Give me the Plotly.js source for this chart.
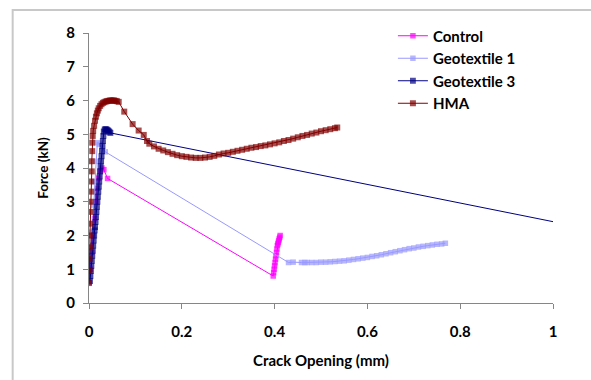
<!DOCTYPE html>
<html>
<head>
<meta charset="utf-8">
<script src="https://cdn.plot.ly/plotly-3.0.1.min.js"></script>
<style>html,body{margin:0;padding:0;background:#fff;}#chart{width:591px;height:380px;}</style>
</head>
<body>
<div id="chart"></div>
<script>
// Data
const seriesNames = ["Control", "Geotextile 1", "Geotextile 3", "HMA"];

const controlX = [0.000, 0.003, 0.006, 0.009, 0.012, 0.015, 0.018, 0.021, 0.024, 0.028, 0.032, 0.040, 0.397, 0.398, 0.399, 0.400, 0.401, 0.402, 0.403, 0.404, 0.405, 0.406, 0.407, 0.408, 0.409, 0.410, 0.411, 0.412];
const controlY = [0.60, 1.00, 1.50, 2.00, 2.50, 3.00, 3.40, 3.70, 3.90, 4.00, 3.95, 3.69, 0.80, 0.90, 1.00, 1.10, 1.20, 1.30, 1.40, 1.50, 1.60, 1.70, 1.75, 1.80, 1.85, 1.90, 1.95, 2.00];

const geo1X = [0.000, 0.003, 0.006, 0.009, 0.012, 0.015, 0.018, 0.022, 0.035, 0.430, 0.440, 0.458, 0.465, 0.470, 0.480, 0.490, 0.500, 0.510, 0.520, 0.530, 0.540, 0.550, 0.560, 0.570, 0.580, 0.590, 0.600, 0.610, 0.620, 0.630, 0.640, 0.650, 0.660, 0.670, 0.680, 0.690, 0.700, 0.710, 0.720, 0.730, 0.740, 0.750, 0.760, 0.768];
const geo1Y = [0.58, 1.30, 2.10, 2.90, 3.60, 4.20, 4.75, 4.70, 4.48, 1.20, 1.21, 1.20, 1.20, 1.20, 1.20, 1.20, 1.21, 1.21, 1.22, 1.23, 1.24, 1.25, 1.27, 1.29, 1.31, 1.33, 1.35, 1.38, 1.40, 1.43, 1.46, 1.49, 1.52, 1.55, 1.58, 1.61, 1.63, 1.66, 1.68, 1.70, 1.72, 1.74, 1.75, 1.77];

const geo3X = [0.002, 0.003, 0.004, 0.005, 0.006, 0.007, 0.008, 0.009, 0.010, 0.011, 0.012, 0.013, 0.014, 0.015, 0.016, 0.017, 0.018, 0.019, 0.020, 0.021, 0.022, 0.023, 0.024, 0.025, 0.026, 0.027, 0.028, 0.029, 0.030, 0.031, 0.032, 0.034, 0.036, 0.038, 0.040, 0.042, 0.044, 0.046, 1.000];
const geo3Y = [0.65, 0.80, 0.95, 1.10, 1.25, 1.40, 1.55, 1.70, 1.85, 2.00, 2.15, 2.25, 2.40, 2.55, 2.70, 2.85, 3.00, 3.15, 3.30, 3.45, 3.60, 3.75, 3.90, 4.05, 4.20, 4.35, 4.50, 4.65, 4.80, 4.95, 5.08, 5.14, 5.15, 5.14, 5.12, 5.10, 5.07, 5.04, 2.41];

const hmaX = [0.000, 0.001, 0.001, 0.002, 0.002, 0.003, 0.003, 0.004, 0.005, 0.005, 0.006, 0.006, 0.007, 0.007, 0.008, 0.009, 0.011, 0.013, 0.015, 0.017, 0.019, 0.021, 0.024, 0.027, 0.030, 0.033, 0.036, 0.039, 0.042, 0.045, 0.048, 0.051, 0.054, 0.057, 0.060, 0.064, 0.076, 0.094, 0.107, 0.118, 0.125, 0.130, 0.140, 0.150, 0.160, 0.170, 0.180, 0.190, 0.200, 0.210, 0.220, 0.230, 0.240, 0.250, 0.260, 0.270, 0.280, 0.290, 0.300, 0.310, 0.320, 0.330, 0.340, 0.350, 0.360, 0.370, 0.380, 0.390, 0.400, 0.410, 0.420, 0.430, 0.440, 0.450, 0.460, 0.470, 0.480, 0.490, 0.500, 0.510, 0.520, 0.530, 0.535];
const hmaY = [0.60, 0.95, 1.30, 1.65, 2.00, 2.35, 2.70, 3.00, 3.30, 3.60, 3.90, 4.20, 4.50, 4.75, 4.95, 5.10, 5.25, 5.40, 5.52, 5.62, 5.70, 5.77, 5.84, 5.89, 5.93, 5.95, 5.97, 5.98, 5.99, 6.00, 6.00, 6.00, 6.00, 5.99, 5.98, 5.96, 5.67, 5.30, 5.11, 4.98, 4.80, 4.72, 4.64, 4.57, 4.52, 4.47, 4.42, 4.38, 4.35, 4.33, 4.31, 4.30, 4.30, 4.31, 4.33, 4.36, 4.40, 4.43, 4.45, 4.48, 4.51, 4.54, 4.57, 4.60, 4.62, 4.65, 4.67, 4.70, 4.73, 4.76, 4.80, 4.83, 4.87, 4.91, 4.95, 4.98, 5.02, 5.05, 5.09, 5.12, 5.15, 5.18, 5.20];

const xTicks = [0, 0.2, 0.4, 0.6, 0.8, 1];
const xTickText = ["0", "0.2", "0.4", "0.6", "0.8", "1"];
const yTicks = [0, 1, 2, 3, 4, 5, 6, 7, 8];

const colors = ["#FF00FF", "#9999FF", "#000080", "#800000"];
const markerSizes = [5.5, 5.5, 6, 6];
const xs = [controlX, geo1X, geo3X, hmaX];
const ys = [controlY, geo1Y, geo3Y, hmaY];

const traces = seriesNames.map((n, i) => {
  // the Geotextile 3 segment runs off the right edge; its end point carries no visible marker
  const sizes = xs[i].map((x) => (x >= 1 ? 0 : markerSizes[i]));
  return {
    type: "scatter",
    mode: "lines+markers",
    name: n,
    x: xs[i],
    y: ys[i],
    line: {color: colors[i], width: 1},
    marker: {color: colors[i], symbol: "square", size: sizes, line: {width: 0}},
    cliponaxis: true
  };
});

const fontFam = "Lato, 'Open Sans', sans-serif";
const bold = (s) => ({family: fontFam, size: s, color: "#000", weight: "bold"});
const layout = {
  width: 591, height: 380,
  margin: {l: 88.5, r: 38, t: 33, b: 77},
  paper_bgcolor: "#fff",
  plot_bgcolor: "#fff",
  font: bold(14),
  showlegend: true,
  legend: {
    x: 0.655, y: 1.05, xanchor: "left", yanchor: "top",
    bgcolor: "rgba(0,0,0,0)",
    font: bold(15),
    tracegroupgap: 0,
    itemwidth: 30
  },
  xaxis: {
    range: [0, 1], tickvals: xTicks, ticktext: xTickText,
    showline: true, linecolor: "#868686", linewidth: 1,
    ticks: "outside", ticklen: 5, tickcolor: "#868686",
    showgrid: false, zeroline: false, automargin: false,
    ticklabelstandoff: 10,
    tickfont: bold(15),
    title: {text: "Crack Opening (mm)", font: bold(15), standoff: 16}
  },
  yaxis: {
    range: [0, 8], tickvals: yTicks,
    showline: true, linecolor: "#868686", linewidth: 1,
    ticks: "outside", ticklen: 5, tickcolor: "#868686",
    showgrid: false, zeroline: false, automargin: false,
    ticklabelstandoff: 5,
    tickfont: bold(15),
    title: {text: "Force (kN)", font: bold(13.5), standoff: 14}
  },
  shapes: [{
    type: "rect", xref: "paper", yref: "paper",
    x0: -0.1645, x1: 1.5, y0: -0.5, y1: 1.085,
    line: {color: "#c8c8c8", width: 2}, fillcolor: "rgba(0,0,0,0)", layer: "below"
  }]
};

Plotly.newPlot("chart", traces, layout, {displayModeBar: false, staticPlot: true});
</script>
</body>
</html>
